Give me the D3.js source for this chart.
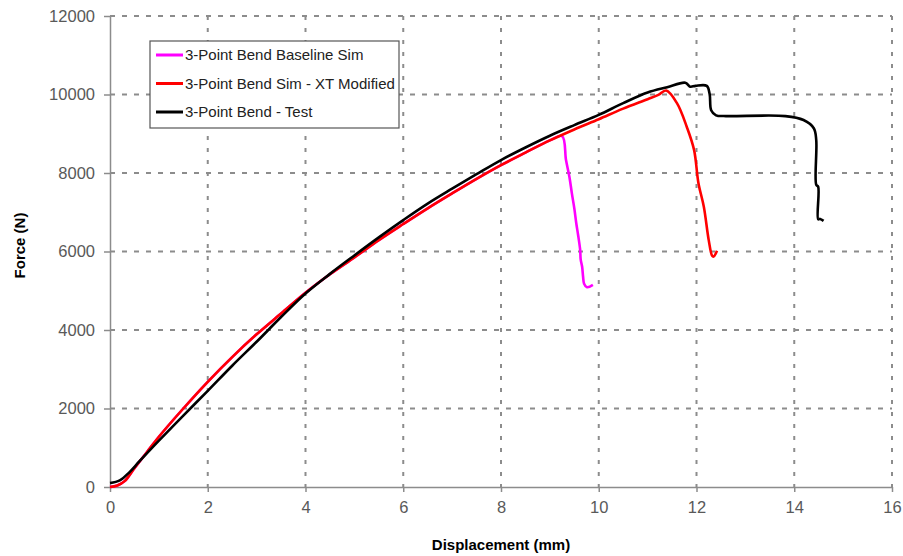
<!DOCTYPE html>
<html lang="en">
<head>
  <meta charset="UTF-8">
  <title>3-Point Bend Force vs Displacement</title>
  <script src="https://d3js.org/d3.v7.min.js"></script>
  <style>
    body { margin: 0; background: white; }
    .tickText { font-family: "Liberation Sans", Arial, sans-serif; font-size: 16.5px; fill: #595959; }
    .axisTitle { font-family: "Liberation Sans", Arial, sans-serif; font-size: 15px; font-weight: bold; fill: #000; }
    .legendText { font-family: "Liberation Sans", Arial, sans-serif; font-size: 15px; fill: #222; }
    .grid-h { stroke: #8c8c8c; stroke-width: 2; stroke-dasharray: 5,7; }
    .grid-v { stroke: #8c8c8c; stroke-width: 2; stroke-dasharray: 4,8; }
  </style>
</head>
<body>
<div id="chart"></div>
<script>
  // series data (displacement mm, force N)
  const baselineX = [0, 0.15, 0.3, 0.5, 0.75, 1.0, 1.5, 2.0, 2.5, 3.0, 3.5, 4.0, 4.5, 5.0, 5.5, 6.0, 6.5, 7.0, 7.5, 8.0, 8.5, 9.0, 9.25, 9.33, 9.40, 9.45, 9.50, 9.54, 9.58, 9.62, 9.63, 9.66, 9.68, 9.70, 9.76, 9.88];
  const baselineY = [0, 40, 150, 480, 880, 1280, 2000, 2680, 3310, 3890, 4420, 4950, 5420, 5850, 6290, 6700, 7100, 7480, 7850, 8200, 8520, 8830, 8940, 8330, 7900, 7480, 7100, 6720, 6400, 6040, 5800, 5610, 5350, 5180, 5090, 5150];

  const modifiedX = [0, 0.15, 0.3, 0.5, 0.75, 1.0, 1.5, 2.0, 2.5, 3.0, 3.5, 4.0, 4.5, 5.0, 5.5, 6.0, 6.5, 7.0, 7.5, 8.0, 8.5, 9.0, 9.5, 10.0, 10.5, 11.0, 11.22, 11.38, 11.6, 11.8, 11.95, 12.04, 12.15, 12.25, 12.32, 12.35, 12.42];
  const modifiedY = [0, 40, 150, 480, 880, 1280, 2000, 2680, 3310, 3890, 4420, 4950, 5420, 5850, 6290, 6700, 7100, 7480, 7850, 8200, 8520, 8830, 9110, 9370, 9640, 9880, 9990, 10100, 9780, 9180, 8590, 7740, 7140, 6290, 5890, 5870, 6020];

  const testX = [0, 0.2, 0.4, 0.6, 1.0, 1.5, 2.0, 2.5, 3.0, 3.5, 4.0, 4.5, 5.0, 5.5, 6.0, 6.5, 7.0, 7.5, 8.0, 8.5, 9.0, 9.5, 10.0, 10.5, 11.0, 11.4, 11.77, 11.87, 11.98, 12.21, 12.27, 12.30, 12.40, 12.60, 13.82, 14.19, 14.40, 14.45, 14.45, 14.49, 14.49, 14.53, 14.60];
  const testY = [100, 170, 380, 650, 1180, 1820, 2450, 3090, 3700, 4330, 4930, 5430, 5900, 6360, 6800, 7220, 7600, 7970, 8330, 8650, 8950, 9220, 9480, 9780, 10050, 10185, 10300, 10200, 10220, 10220, 10000, 9600, 9470, 9450, 9450, 9350, 9140, 8840, 7700, 7650, 6820, 6830, 6780];

  const seriesNames = ["3-Point Bend Baseline Sim", "3-Point Bend Sim - XT Modified", "3-Point Bend - Test"];
  const seriesColors = ["#ff00ff", "#ff0000", "#000000"];

  const xTicks = [0, 2, 4, 6, 8, 10, 12, 14, 16];
  const yTicks = [0, 2000, 4000, 6000, 8000, 10000, 12000];

  const width = 903, height = 556;
  const margin = { top: 16, right: 11, bottom: 69, left: 110 };

  const svg = d3.select("#chart").append("svg")
    .attr("width", width)
    .attr("height", height);

  const x = d3.scaleLinear().domain([0, 16]).range([margin.left, width - margin.right]);
  const y = d3.scaleLinear().domain([0, 12000]).range([height - margin.bottom, margin.top]);

  // gridlines
  svg.selectAll(".grid-h")
    .data(yTicks.filter(d => d > 0))
    .enter().append("line")
    .attr("class", "grid-h")
    .attr("x1", x(0)).attr("x2", x(16))
    .attr("y1", d => y(d)).attr("y2", d => y(d));

  svg.selectAll(".grid-v")
    .data(xTicks.filter(d => d > 0))
    .enter().append("line")
    .attr("class", "grid-v")
    .attr("x1", d => x(d)).attr("x2", d => x(d))
    .attr("y1", y(12000)).attr("y2", y(0));

  // axes
  const xAxis = svg.append("g")
    .attr("transform", `translate(0,${y(0)})`)
    .call(d3.axisBottom(x).tickValues(xTicks).tickFormat(d3.format("d"))
      .tickSize(5).tickPadding(12).tickSizeOuter(0));
  const yAxis = svg.append("g")
    .attr("transform", `translate(${x(0)},0)`)
    .call(d3.axisLeft(y).tickValues(yTicks).tickFormat(d3.format("d"))
      .tickSize(6).tickPadding(9).tickSizeOuter(0));

  [xAxis, yAxis].forEach(g => {
    g.select(".domain").attr("stroke", "#8c8c8c").attr("stroke-width", 1.5);
    g.selectAll(".tick line").attr("stroke", "#8c8c8c").attr("stroke-width", 1.5);
    g.selectAll(".tick text").attr("class", "tickText").attr("fill", null);
  });
  xAxis.selectAll(".tick text").attr("dy", "0.55em");

  // lines
  const line = d3.line()
    .x(d => x(d[0]))
    .y(d => y(d[1]))
    .curve(d3.curveCatmullRom.alpha(0.5));
  const allSeries = [
    d3.zip(baselineX, baselineY),
    d3.zip(modifiedX, modifiedY),
    d3.zip(testX, testY)
  ];

  svg.selectAll(".series")
    .data(allSeries)
    .enter().append("path")
    .attr("class", "series")
    .attr("d", line)
    .attr("fill", "none")
    .attr("stroke", (d, i) => seriesColors[i])
    .attr("stroke-width", 2.6)
    .attr("stroke-linejoin", "round");

  // axis titles
  svg.append("text")
    .attr("class", "axisTitle")
    .attr("x", x(8))
    .attr("y", 550)
    .attr("text-anchor", "middle")
    .text("Displacement (mm)");

  svg.append("text")
    .attr("class", "axisTitle")
    .attr("transform", `translate(25,${y(6000) - 6}) rotate(-90)`)
    .attr("text-anchor", "middle")
    .text("Force (N)");

  // legend
  const legend = svg.append("g").attr("transform", "translate(150,41)");
  legend.append("rect")
    .attr("width", 249).attr("height", 87)
    .attr("fill", "white")
    .attr("stroke", "#555").attr("stroke-width", 1.2);

  const entries = legend.selectAll(".entry")
    .data(seriesNames)
    .enter().append("g")
    .attr("transform", (d, i) => `translate(0,${14 + i * 28.5})`);

  entries.append("line")
    .attr("x1", 6).attr("x2", 33)
    .attr("y1", 0).attr("y2", 0)
    .attr("stroke", (d, i) => seriesColors[i])
    .attr("stroke-width", 3);

  entries.append("text")
    .attr("class", "legendText")
    .attr("x", 35)
    .attr("y", 0)
    .attr("dy", "0.35em")
    .text(d => d);
</script>
</body>
</html>
